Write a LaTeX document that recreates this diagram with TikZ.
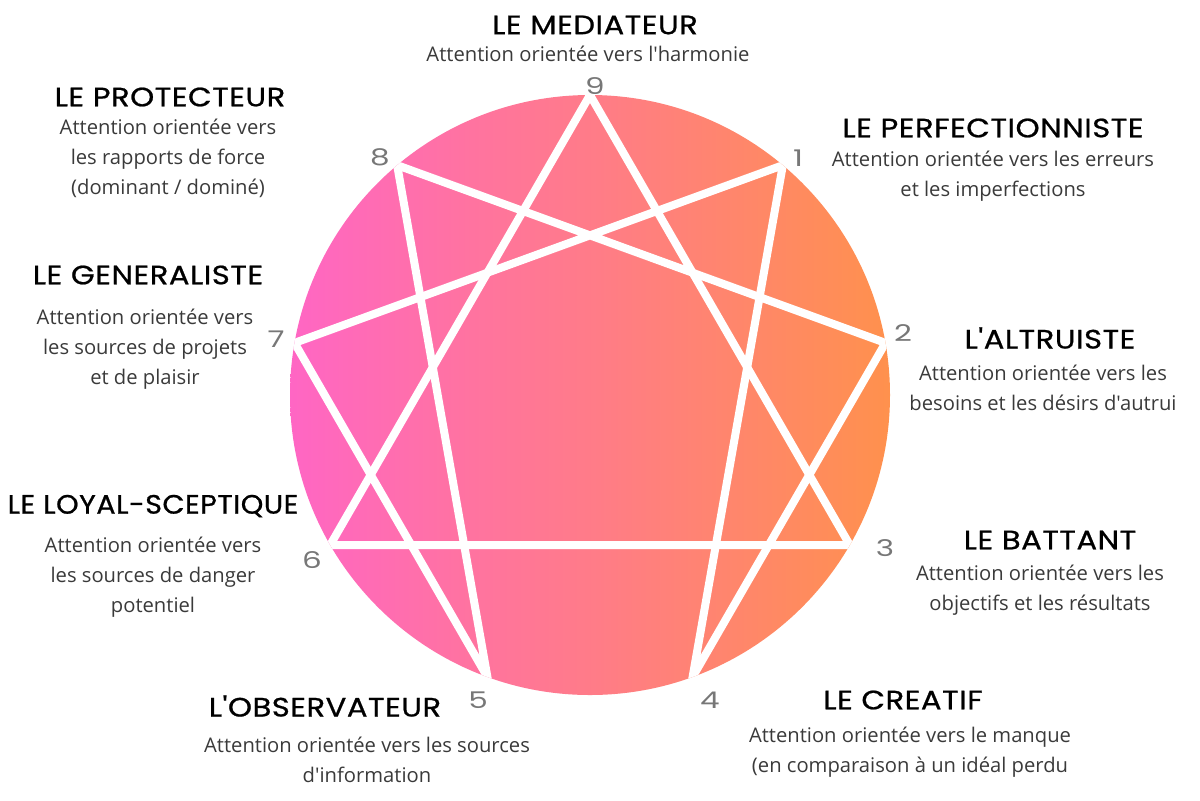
\documentclass[tikz,border=0pt]{standalone}
\usepackage{fontspec}
\newfontfamily\titlefont[FakeStretch=1.15,FakeBold=0.8,LetterSpace=2]{Poppins}
\newfontfamily\descfont{Open Sans}
\newfontfamily\numfont[FakeStretch=1.35]{Poppins}
\definecolor{gpink}{HTML}{FF66C4}
\definecolor{gorange}{HTML}{FF914D}
\definecolor{desc}{HTML}{3A3A3A}
\definecolor{numgray}{HTML}{777777}
\tikzset{
  title/.style={font=\titlefont\fontsize{13.3}{15}\selectfont, text=black, inner sep=0pt, anchor=center},
  desctext/.style={font=\descfont\fontsize{10.1}{14.8}\selectfont, text=desc, inner sep=0pt, align=center, anchor=north},
  num/.style={font=\numfont\fontsize{11.5}{14}\selectfont, text=numgray, inner sep=0pt},
  wline/.style={draw=white, line width=4pt, line join=miter}
}
\begin{document}
\begin{tikzpicture}[x=0.5pt,y=-0.5pt]
\useasboundingbox (0,0) rectangle (1200,800);
\coordinate (c) at (590,395);
\shade[left color=gpink, right color=gorange] (c) circle[radius=150pt];
\foreach \k in {0,...,8}
  \coordinate (p\k) at ({590+300*cos(90-40*\k)},{395-300*sin(90-40*\k)});
\begin{scope}
\clip (c) circle[radius=150pt];
\draw[wline] (p0) -- (p3) -- (p6) -- cycle;
\draw[wline] (p1) -- (p4) -- (p2) -- (p8) -- (p5) -- (p7) -- cycle;
\end{scope}
% numbers
\node[num] (n9) at (595,86) {9};
\node[num] (n1) at (798,158) {1};
\node[num] (n2) at (903,333) {2};
\node[num] (n3) at (885,548) {3};
\node[num] (n4) at (710,700) {4};
\node[num] (n5) at (478,700) {5};
\node[num] (n6) at (312,560) {6};
\node[num] (n7) at (276,339) {7};
\node[num] (n8) at (380,157) {8};
% titles and descriptions
\node[title] (t9) at (595,25) {LE MEDIATEUR};
\node[desctext] (d9) at (588,46) {Attention orientée vers l'harmonie};
\node[title] (t8) at (170,97) {LE PROTECTEUR};
\node[desctext] (d8) at (168,119) {Attention orientée vers\\les rapports de force\\(dominant / dominé)};
\node[title] (t1) at (993,128) {LE PERFECTIONNISTE};
\node[desctext] (d1) at (993,151) {Attention orientée vers les erreurs\\et les imperfections};
\node[title] (t7) at (148,275) {LE GENERALISTE};
\node[desctext] (d7) at (145,309) {Attention orientée vers\\les sources de projets\\et de plaisir};
\node[title] (t2) at (1050,338) {L'ALTRUISTE};
\node[desctext] (d2) at (1043,365) {Attention orientée vers les\\besoins et les désirs d'autrui};
\node[title] (t6) at (153,506) {\scalebox{0.935}[1]{LE LOYAL-SCEPTIQUE}};
\node[desctext] (d6) at (153,537) {Attention orientée vers\\les sources de danger\\potentiel};
\node[title] (t3) at (1050,540) {LE BATTANT};
\node[desctext] (d3) at (1040,565) {Attention orientée vers les\\objectifs et les résultats};
\node[title] (t5) at (325,706) {L'OBSERVATEUR};
\node[desctext] (d5) at (367,737) {Attention orientée vers les sources\\d'information};
\node[title] (t4) at (903,700) {LE CREATIF};
\node[desctext] (d4) at (910,727) {Attention orientée vers le manque\\(en comparaison à un idéal perdu};
\end{tikzpicture}
\end{document}
